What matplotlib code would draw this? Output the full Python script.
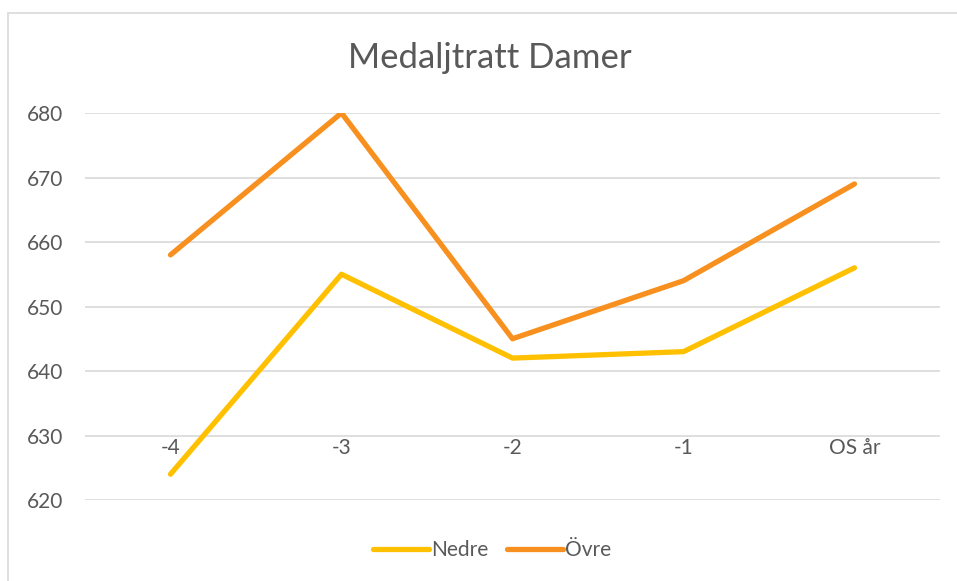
import matplotlib.pyplot as plt
from matplotlib.patches import Rectangle

categories = ["-4", "-3", "-2", "-1", "OS år"]
nedre = [624, 655, 642, 643, 656]
ovre = [658, 680, 645, 654, 669]

plt.rcParams['font.family'] = ['Lato', 'DejaVu Sans']
text_color = '#595959'
grid_color = '#D9D9D9'

fig = plt.figure(figsize=(9.57, 5.81), dpi=100)
ax = fig.add_axes([85 / 957, 81 / 581, 855 / 957, 387 / 581])

# chart frame
fig.patches.append(Rectangle((8 / 957, -10 / 581), 1.0, (581 - 13 + 10) / 581,
                             transform=fig.transFigure, fill=False,
                             edgecolor=grid_color, linewidth=1.2))

x = list(range(len(categories)))
ax.plot(x, nedre, color='#FFC000', linewidth=3.8, solid_capstyle='round', label='Nedre', zorder=3)
ax.plot(x, ovre, color='#F7901E', linewidth=3.8, solid_capstyle='round', label='Övre', zorder=3)

ax.set_xlim(-0.5, len(categories) - 0.5)
ax.set_ylim(620, 680)
ax.set_yticks(range(620, 681, 10))
ax.yaxis.grid(True, color=grid_color, linewidth=1.2)
ax.set_axisbelow(True)
for s in ax.spines.values():
    s.set_visible(False)
ax.tick_params(axis='y', length=0, pad=16, labelsize=15, labelcolor=text_color)
ax.set_xticks([])

# category axis crosses at 630
for i, lab in enumerate(categories):
    ax.annotate(lab, (i, 630), xytext=(0, -2), textcoords='offset points',
                ha='center', va='top', fontsize=15, color=text_color)

fig.text(490 / 957, 1 - 58 / 581, "Medaljtratt Damer", ha='center', va='center',
         fontsize=25, color=text_color)

ax.legend(loc='center', bbox_to_anchor=(492 / 957, 1 - 550 / 581),
          bbox_transform=fig.transFigure, ncol=2, frameon=False,
          fontsize=15, labelcolor=text_color, handlelength=2.7,
          handletextpad=0.1, columnspacing=0.9)

fig.savefig('out.png', dpi=100)
